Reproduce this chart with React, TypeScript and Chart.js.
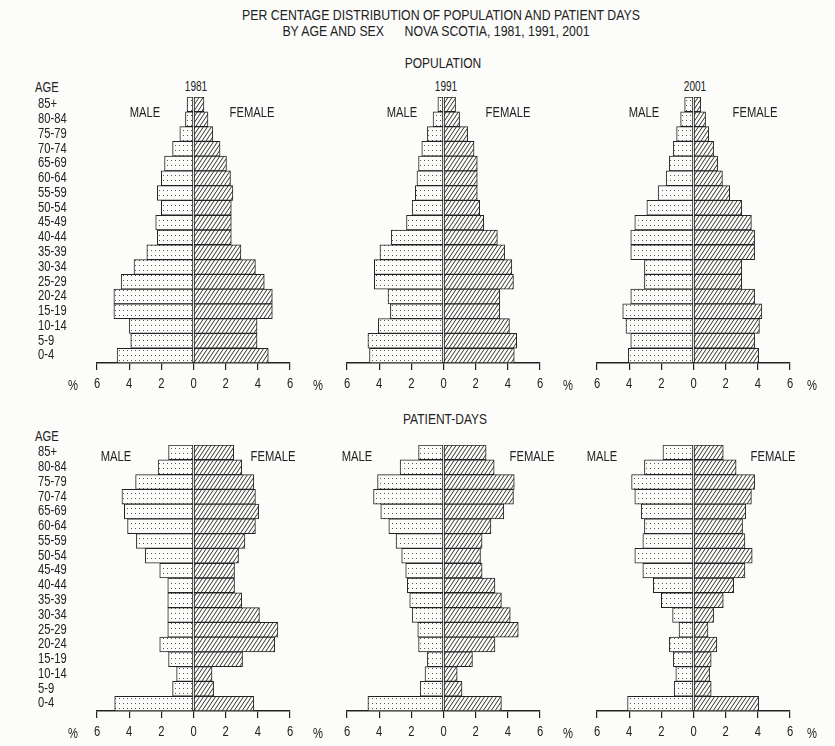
import React, { useEffect, useRef } from "react";
import { Chart, registerables } from "chart.js";
Chart.register(...registerables);

const AGE_GROUPS = ["85+", "80-84", "75-79", "70-74", "65-69", "60-64", "55-59", "50-54", "45-49", "40-44", "35-39", "30-34", "25-29", "20-24", "15-19", "10-14", "5-9", "0-4"];
const X_TICKS = [-6, -4, -2, 0, 2, 4, 6];

const POP_1981_MALE = [0.4, 0.5, 0.85, 1.3, 1.8, 2.0, 2.25, 2.0, 2.35, 2.25, 2.9, 3.7, 4.5, 4.95, 4.95, 4.0, 3.9, 4.75];
const POP_1981_FEMALE = [0.65, 0.9, 1.2, 1.65, 2.05, 2.3, 2.45, 2.35, 2.35, 2.35, 2.95, 3.85, 4.4, 4.9, 4.9, 3.95, 3.95, 4.65];
const POP_1991_MALE = [0.35, 0.65, 1.0, 1.35, 1.55, 1.65, 1.75, 1.95, 2.3, 3.25, 3.95, 4.3, 4.3, 3.45, 3.3, 4.05, 4.7, 4.6];
const POP_1991_FEMALE = [0.75, 1.0, 1.5, 1.9, 2.1, 2.1, 2.1, 2.25, 2.5, 3.35, 3.8, 4.25, 4.35, 3.5, 3.5, 4.1, 4.55, 4.4];
const POP_2001_MALE = [0.55, 0.8, 1.05, 1.25, 1.5, 1.7, 2.2, 2.9, 3.65, 3.9, 3.9, 3.05, 3.05, 3.9, 4.4, 4.2, 3.9, 4.05];
const POP_2001_FEMALE = [0.45, 0.75, 0.95, 1.25, 1.5, 1.8, 2.25, 3.0, 3.6, 3.8, 3.8, 3.0, 3.0, 3.8, 4.25, 4.1, 3.8, 4.05];

const PD_1981_MALE = [1.55, 2.2, 3.6, 4.45, 4.3, 4.1, 3.55, 3.0, 2.1, 1.6, 1.6, 1.6, 1.6, 2.1, 1.55, 1.05, 1.3, 4.9];
const PD_1981_FEMALE = [2.5, 3.0, 3.75, 3.85, 4.05, 3.85, 3.2, 2.8, 2.55, 2.55, 3.0, 4.1, 5.25, 5.05, 3.05, 1.15, 1.25, 3.75];
const PD_1991_MALE = [1.55, 2.7, 4.1, 4.35, 3.9, 3.4, 2.95, 2.6, 2.35, 2.25, 2.1, 1.95, 1.6, 1.55, 1.0, 1.15, 1.45, 4.7];
const PD_1991_FEMALE = [2.65, 3.15, 4.4, 4.35, 3.75, 2.95, 2.4, 2.3, 2.4, 3.2, 3.6, 4.15, 4.65, 3.2, 1.8, 0.85, 1.15, 3.6];
const PD_2001_MALE = [1.9, 3.05, 3.85, 3.65, 3.25, 3.05, 3.15, 3.65, 3.15, 2.5, 2.0, 1.3, 0.9, 1.5, 1.25, 1.1, 1.2, 4.1];
const PD_2001_FEMALE = [1.85, 2.65, 3.8, 3.6, 3.25, 3.05, 3.2, 3.65, 3.2, 2.5, 1.85, 1.25, 0.9, 1.45, 1.1, 1.0, 1.1, 4.05];

const FONT = "'Liberation Sans', Arial, sans-serif";
const INK = "#222";
const BG = "#fcfcfa";
const SQUEEZE = 0.8;

function makeDots(): CanvasPattern | string {
  const c = document.createElement("canvas");
  c.width = 4; c.height = 5;
  const g = c.getContext("2d");
  if (!g) return "#ddd";
  g.fillStyle = BG; g.fillRect(0, 0, 4, 5);
  g.fillStyle = "#555"; g.fillRect(1, 2, 1, 1);
  return g.createPattern(c, "repeat") || "#ddd";
}
function makeHatch(): CanvasPattern | string {
  const c = document.createElement("canvas");
  const w = 4, h = 6;
  c.width = w; c.height = h;
  const g = c.getContext("2d");
  if (!g) return "#bbb";
  g.fillStyle = BG; g.fillRect(0, 0, w, h);
  g.strokeStyle = "#333"; g.lineWidth = 1;
  for (let k = -1; k <= 1; k++) {
    g.beginPath(); g.moveTo(k * w, h); g.lineTo(k * w + w, 0); g.stroke();
  }
  return g.createPattern(c, "repeat") || "#bbb";
}

const AREA_W = 193;
const AREA_H = 266;
const YAX_W = 59;
const XAX_H = 34;
const PAD = 12;
const TOP_PAD = 4;

// draws the scales' tick labels in a condensed face (horizontal squeeze)
const condensedTicks = {
  id: "condensedTicks",
  afterDraw(chart: any, _args: any, opts: any) {
    const ctx = chart.ctx as CanvasRenderingContext2D;
    const xs = chart.scales.x;
    const ys = chart.scales.y;
    ctx.save();
    ctx.fillStyle = INK;
    ctx.font = `14px ${FONT}`;
    ctx.textBaseline = "middle";
    ctx.textAlign = "center";
    xs.ticks.forEach((t: any) => {
      const px = xs.getPixelForValue(t.value);
      ctx.save();
      ctx.translate(px, xs.top + 21);
      ctx.scale(SQUEEZE, 1);
      ctx.fillText(String(Math.abs(t.value)), 0, 0);
      ctx.restore();
    });
    if (opts && opts.showAges) {
      ctx.textAlign = "left";
      ys.ticks.forEach((t: any, i: number) => {
        const py = ys.getPixelForTick(i);
        ctx.save();
        ctx.translate(ys.left, py);
        ctx.scale(SQUEEZE, 1);
        ctx.fillText(String(chart.data.labels[t.value]), 0, 0);
        ctx.restore();
      });
    }
    ctx.restore();
  },
};

type PanelProps = { left: number; top: number; male: number[]; female: number[]; showAges: boolean };

function Panel({ left, top, male, female, showAges }: PanelProps) {
  const ref = useRef<HTMLCanvasElement>(null);
  const padL = showAges ? 0 : PAD;
  const yw = showAges ? YAX_W : 0;
  const cw = padL + yw + AREA_W + PAD;
  const ch = TOP_PAD + AREA_H + XAX_H;
  const cl = left - yw - padL;
  const ct = top - TOP_PAD;
  useEffect(() => {
    if (!ref.current) return;
    const dots = makeDots();
    const hatch = makeHatch();
    const chart = new Chart(ref.current, {
      type: "bar",
      data: {
        labels: AGE_GROUPS,
        datasets: [
          { label: "MALE", data: male.map((v) => -v), backgroundColor: dots as any, borderColor: INK, borderWidth: 1, borderSkipped: false, barPercentage: 1, categoryPercentage: 1 },
          { label: "FEMALE", data: female, backgroundColor: hatch as any, borderColor: INK, borderWidth: 1, borderSkipped: false, barPercentage: 1, categoryPercentage: 1 },
        ],
      },
      plugins: [condensedTicks],
      options: {
        indexAxis: "y",
        responsive: false,
        animation: false,
        layout: { padding: { left: padL, right: PAD, top: TOP_PAD, bottom: 0 } },
        plugins: { legend: { display: false }, tooltip: { enabled: false }, title: { display: false }, condensedTicks: { showAges } } as any,
        scales: {
          x: {
            stacked: true,
            min: -6,
            max: 6,
            afterFit: (s: any) => { s.height = XAX_H; },
            afterBuildTicks: (s: any) => { s.ticks = X_TICKS.map((v) => ({ value: v })); },
            ticks: { display: false },
            grid: { drawOnChartArea: false, drawTicks: true, tickLength: 7, color: INK, lineWidth: 1.2 },
            border: { display: true, color: INK, width: 1.5 },
          },
          y: {
            stacked: true,
            display: showAges,
            afterFit: (s: any) => { if (showAges) s.width = YAX_W; },
            ticks: { display: false, autoSkip: false },
            grid: { display: false },
            border: { display: false },
          },
        },
      },
    });
    return () => chart.destroy();
  }, []);
  return <canvas ref={ref} width={cw} height={ch} style={{ position: "absolute", left: cl, top: ct, width: cw, height: ch }} />;
}

const T = (p: { x: number; y: number; s?: number; k?: number; children: React.ReactNode; align?: string }) => (
  <div style={{ position: "absolute", left: p.x, top: p.y, transformOrigin: p.align === "left" ? "0 50%" : "50% 50%", transform: (p.align === "left" ? "translate(0,-50%)" : "translate(-50%,-50%)") + ` scaleX(${p.k || SQUEEZE})`, fontFamily: FONT, fontSize: p.s || 14, color: INK, whiteSpace: "pre", lineHeight: 1 }}>{p.children}</div>
);

const COLS = [97, 347, 597];
const ZEROS = [194, 444, 693];
const PCT_X = [73, 318, 568, 812];

export default function App() {
  const topRow = [
    { m: POP_1981_MALE, f: POP_1981_FEMALE, yr: "1981" },
    { m: POP_1991_MALE, f: POP_1991_FEMALE, yr: "1991" },
    { m: POP_2001_MALE, f: POP_2001_FEMALE, yr: "2001" },
  ];
  const botRow = [
    { m: PD_1981_MALE, f: PD_1981_FEMALE },
    { m: PD_1991_MALE, f: PD_1991_FEMALE },
    { m: PD_2001_MALE, f: PD_2001_FEMALE },
  ];
  const maleTop = [145, 402, 644];
  const femTop = [252, 508, 755];
  const maleBot = [116, 357, 602];
  const femBot = [273, 532, 773];
  return (
    <div style={{ position: "absolute", left: 0, top: 0, width: 835, height: 746, background: BG, overflow: "hidden" }}>
      <T x={441} y={14} s={15} k={0.82}>PER CENTAGE DISTRIBUTION OF POPULATION AND PATIENT DAYS</T>
      <T x={436} y={30} s={15} k={0.82}>{"BY AGE AND SEX      NOVA SCOTIA, 1981, 1991, 2001"}</T>
      <T x={443} y={62} s={15} k={0.8}>POPULATION</T>
      <T x={35} y={87} align="left">AGE</T>
      {topRow.map((p, i) => <T key={"yr" + i} x={ZEROS[i] + 2} y={86} s={14} k={0.72}>{p.yr}</T>)}
      {topRow.map((p, i) => (
        <Panel key={"t" + i} left={COLS[i]} top={97} male={p.m} female={p.f} showAges={i === 0} />
      ))}
      {maleTop.map((x, i) => <T key={"mt" + i} x={x} y={112}>MALE</T>)}
      {femTop.map((x, i) => <T key={"ft" + i} x={x} y={112}>FEMALE</T>)}
      {PCT_X.map((x, i) => <T key={"pt" + i} x={x} y={385}>%</T>)}

      <T x={445} y={418} s={15} k={0.8}>PATIENT-DAYS</T>
      <T x={35} y={436} align="left">AGE</T>
      {botRow.map((p, i) => (
        <Panel key={"b" + i} left={COLS[i]} top={445} male={p.m} female={p.f} showAges={i === 0} />
      ))}
      {maleBot.map((x, i) => <T key={"mb" + i} x={x} y={456}>MALE</T>)}
      {femBot.map((x, i) => <T key={"fb" + i} x={x} y={456}>FEMALE</T>)}
      {PCT_X.map((x, i) => <T key={"pb" + i} x={x} y={733}>%</T>)}
    </div>
  );
}
